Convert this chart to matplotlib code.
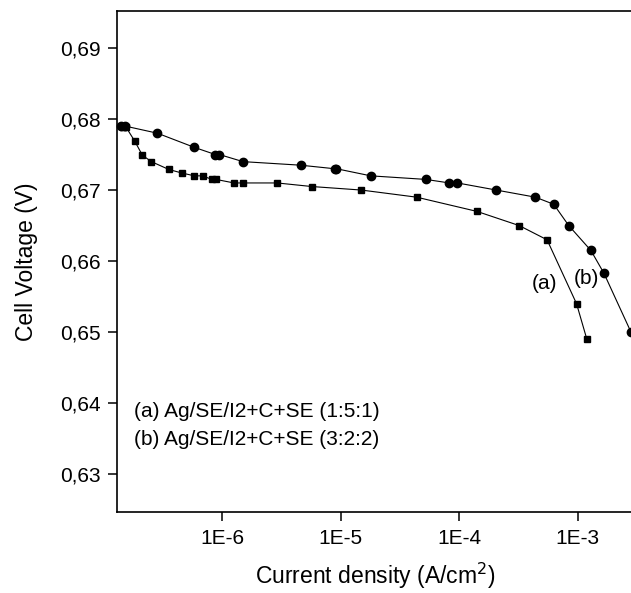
import numpy as np
import matplotlib.pyplot as plt
from matplotlib.ticker import FixedLocator, FuncFormatter, NullLocator

plt.rcParams['font.family'] = ['Liberation Sans', 'DejaVu Sans']

# (a) Ag/SE/I2+C+SE (1:5:1) - squares, log10 of current density
logj_a = [-6.842, -6.815, -6.74, -6.675, -6.599, -6.452, -6.342, -6.235, -6.167,
          -6.088, -6.054, -5.901, -5.825, -5.537, -5.246, -4.825, -4.359, -3.85,
          -3.492, -3.257, -3.008, -2.921]
volt_a = [0.6789, 0.6789, 0.6769, 0.6749, 0.6740, 0.6729, 0.6724, 0.6720, 0.6720,
          0.6715, 0.6715, 0.6710, 0.6710, 0.6710, 0.6705, 0.6700, 0.6690, 0.6670,
          0.6650, 0.6630, 0.6540, 0.6490]

# (b) Ag/SE/I2+C+SE (3:2:2) - circles
logj_b = [-6.855, -6.82, -6.548, -6.235, -6.059, -6.025, -5.825, -5.339, -5.051,
          -5.036, -4.746, -4.282, -4.082, -4.014, -3.686, -3.356, -3.201, -3.074,
          -2.887, -2.777, -2.548]
volt_b = [0.6790, 0.6790, 0.6780, 0.6760, 0.6750, 0.6750, 0.6740, 0.6735, 0.6730,
          0.6730, 0.6720, 0.6715, 0.6710, 0.6710, 0.6700, 0.6690, 0.6680, 0.6650,
          0.6615, 0.6583, 0.6500]

xticks = [1e-6, 1e-5, 1e-4, 1e-3]
xticklabels = ['1E-6', '1E-5', '1E-4', '1E-3']
yticks = [0.63, 0.64, 0.65, 0.66, 0.67, 0.68, 0.69]

fig = plt.figure(figsize=(6.31, 5.93), dpi=100)
ax = fig.add_axes([0.1854, 0.1366, 0.818, 0.8449])

ja = 10 ** np.array(logj_a)
jb = 10 ** np.array(logj_b)
ax.plot(ja, volt_a, '-s', color='black', lw=0.8, ms=5, clip_on=False)
ax.plot(jb, volt_b, '-o', color='black', lw=0.8, ms=6, clip_on=False)

ax.set_xscale('log')
ax.set_xlim(1.29e-7, 2.95e-3)
ax.set_ylim(0.6247, 0.6952)

ax.xaxis.set_major_locator(FixedLocator(xticks))
ax.xaxis.set_minor_locator(NullLocator())
ax.set_xticklabels(xticklabels)
ax.yaxis.set_major_locator(FixedLocator(yticks))
ax.yaxis.set_major_formatter(FuncFormatter(lambda v, p: f'{v:.2f}'.replace('.', ',')))

ax.tick_params(direction='out', length=6.5, width=1.1, labelsize=15)
ax.tick_params(axis='y', pad=5)
ax.tick_params(axis='x', pad=6)
ax.spines['right'].set_visible(False)
for s in ['left', 'bottom', 'top']:
    ax.spines[s].set_linewidth(1.2)

ax.set_xlabel('Current density (A/cm$^2$)', fontsize=16.5, labelpad=9)
ax.set_ylabel('Cell Voltage (V)', fontsize=16.5, labelpad=16)

ax.text(5.25e-4, 0.6568, '(a)', fontsize=15, ha='center', va='center')
ax.text(1.19e-3, 0.6575, '(b)', fontsize=15, ha='center', va='center')
ax.text(0.032, 0.2, '(a) Ag/SE/I2+C+SE (1:5:1)', transform=ax.transAxes, fontsize=15, va='center')
ax.text(0.032, 0.145, '(b) Ag/SE/I2+C+SE (3:2:2)', transform=ax.transAxes, fontsize=15, va='center')

fig.savefig('out.png', dpi=100)
